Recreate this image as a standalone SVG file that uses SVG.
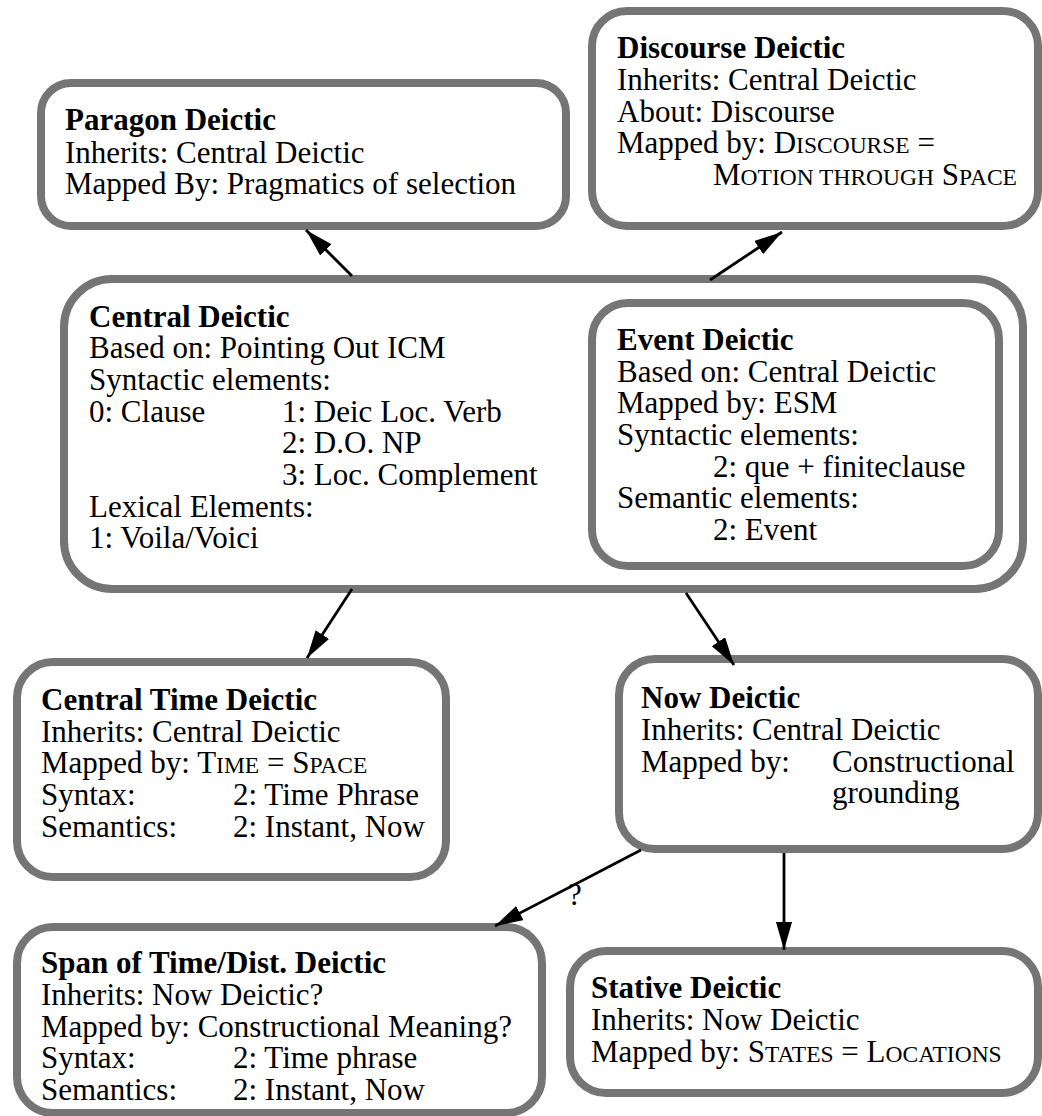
<svg xmlns="http://www.w3.org/2000/svg" width="1042" height="1116" viewBox="0 0 1042 1116">
<style>
.box{fill:#fff;stroke:#757575;stroke-width:8}
text{font-family:"Liberation Serif","Times New Roman",serif;font-size:31px;fill:#000}
.t{font-weight:bold}
.sc{font-size:23.5px}
.edge{stroke:#000;stroke-width:2.8;fill:none;marker-end:url(#ah)}
</style>
<defs>
<marker id="ah" markerUnits="userSpaceOnUse" markerWidth="30" markerHeight="18" refX="28" refY="8" orient="auto">
<path d="M0,0 L28,8 L0,16 z" fill="#000"/>
</marker>
</defs>
<rect width="1042" height="1116" fill="#fff"/>

<g id="paragon">
<rect class="box" x="41" y="83" width="525" height="143" rx="30"/>
<text x="65" y="130" class="t">Paragon Deictic</text>
<text x="65" y="163">Inherits: Central Deictic</text>
<text x="65" y="194">Mapped By: Pragmatics of selection</text>
</g>

<g id="discourse">
<rect class="box" x="592" y="11" width="446" height="215" rx="35"/>
<text x="617" y="58" class="t">Discourse Deictic</text>
<text x="617" y="90">Inherits: Central Deictic</text>
<text x="617" y="122">About: Discourse</text>
<text x="617" y="153">Mapped by: D<tspan class="sc">ISCOURSE</tspan> =</text>
<text x="713" y="185">M<tspan class="sc">OTION THROUGH</tspan> S<tspan class="sc">PACE</tspan></text>
</g>

<g id="central">
<rect class="box" x="64" y="279" width="959" height="310" rx="48"/>
<text x="89" y="327" class="t">Central Deictic</text>
<text x="89" y="358">Based on: Pointing Out ICM</text>
<text x="89" y="390">Syntactic elements:</text>
<text x="89" y="422">0: Clause</text>
<text x="282" y="422">1: Deic Loc. Verb</text>
<text x="282" y="453">2: D.O. NP</text>
<text x="282" y="485">3: Loc. Complement</text>
<text x="89" y="517">Lexical Elements:</text>
<text x="89" y="548">1: Voila/Voici</text>
</g>

<g id="event">
<rect class="box" x="592" y="303" width="407" height="263" rx="36"/>
<text x="617" y="350" class="t">Event Deictic</text>
<text x="617" y="382">Based on: Central Deictic</text>
<text x="617" y="413">Mapped by: ESM</text>
<text x="617" y="445">Syntactic elements:</text>
<text x="713" y="477">2: que + finiteclause</text>
<text x="617" y="508">Semantic elements:</text>
<text x="713" y="540">2: Event</text>
</g>

<g id="central-time">
<rect class="box" x="17" y="662" width="429" height="215" rx="36"/>
<text x="41" y="710" class="t">Central Time Deictic</text>
<text x="41" y="742">Inherits: Central Deictic</text>
<text x="41" y="773">Mapped by: T<tspan class="sc">IME</tspan> = S<tspan class="sc">PACE</tspan></text>
<text x="41" y="805">Syntax:</text>
<text x="233" y="805">2: Time Phrase</text>
<text x="41" y="837">Semantics:</text>
<text x="233" y="837">2: Instant, Now</text>
</g>

<g id="now">
<rect class="box" x="619" y="659" width="419" height="190" rx="36"/>
<text x="641" y="708" class="t">Now Deictic</text>
<text x="641" y="740">Inherits: Central Deictic</text>
<text x="641" y="772">Mapped by:</text>
<text x="832" y="772">Constructional</text>
<text x="832" y="803">grounding</text>
</g>

<g id="span">
<rect class="box" x="17" y="927" width="525" height="186" rx="36"/>
<text x="41" y="973" class="t">Span of Time/Dist. Deictic</text>
<text x="41" y="1005">Inherits: Now Deictic?</text>
<text x="41" y="1037">Mapped by: Constructional Meaning?</text>
<text x="41" y="1068">Syntax:</text>
<text x="233" y="1068">2: Time phrase</text>
<text x="41" y="1100">Semantics:</text>
<text x="233" y="1100">2: Instant, Now</text>
</g>

<g id="stative">
<rect class="box" x="570" y="951" width="468" height="142" rx="36"/>
<text x="591" y="998" class="t">Stative Deictic</text>
<text x="591" y="1030">Inherits: Now Deictic</text>
<text x="591" y="1062">Mapped by: S<tspan class="sc">TATES</tspan> = L<tspan class="sc">OCATIONS</tspan></text>
</g>

<g id="connectors">
<line class="edge" x1="352" y1="276" x2="306" y2="230"/>
<line class="edge" x1="710" y1="280" x2="782" y2="232"/>
<line class="edge" x1="352" y1="589" x2="307" y2="658"/>
<line class="edge" x1="686" y1="593" x2="734" y2="665"/>
<line class="edge" x1="641" y1="850" x2="495" y2="926"/>
<line class="edge" x1="784" y1="853" x2="784" y2="950"/>
<text x="568" y="905">?</text>
</g>
</svg>
